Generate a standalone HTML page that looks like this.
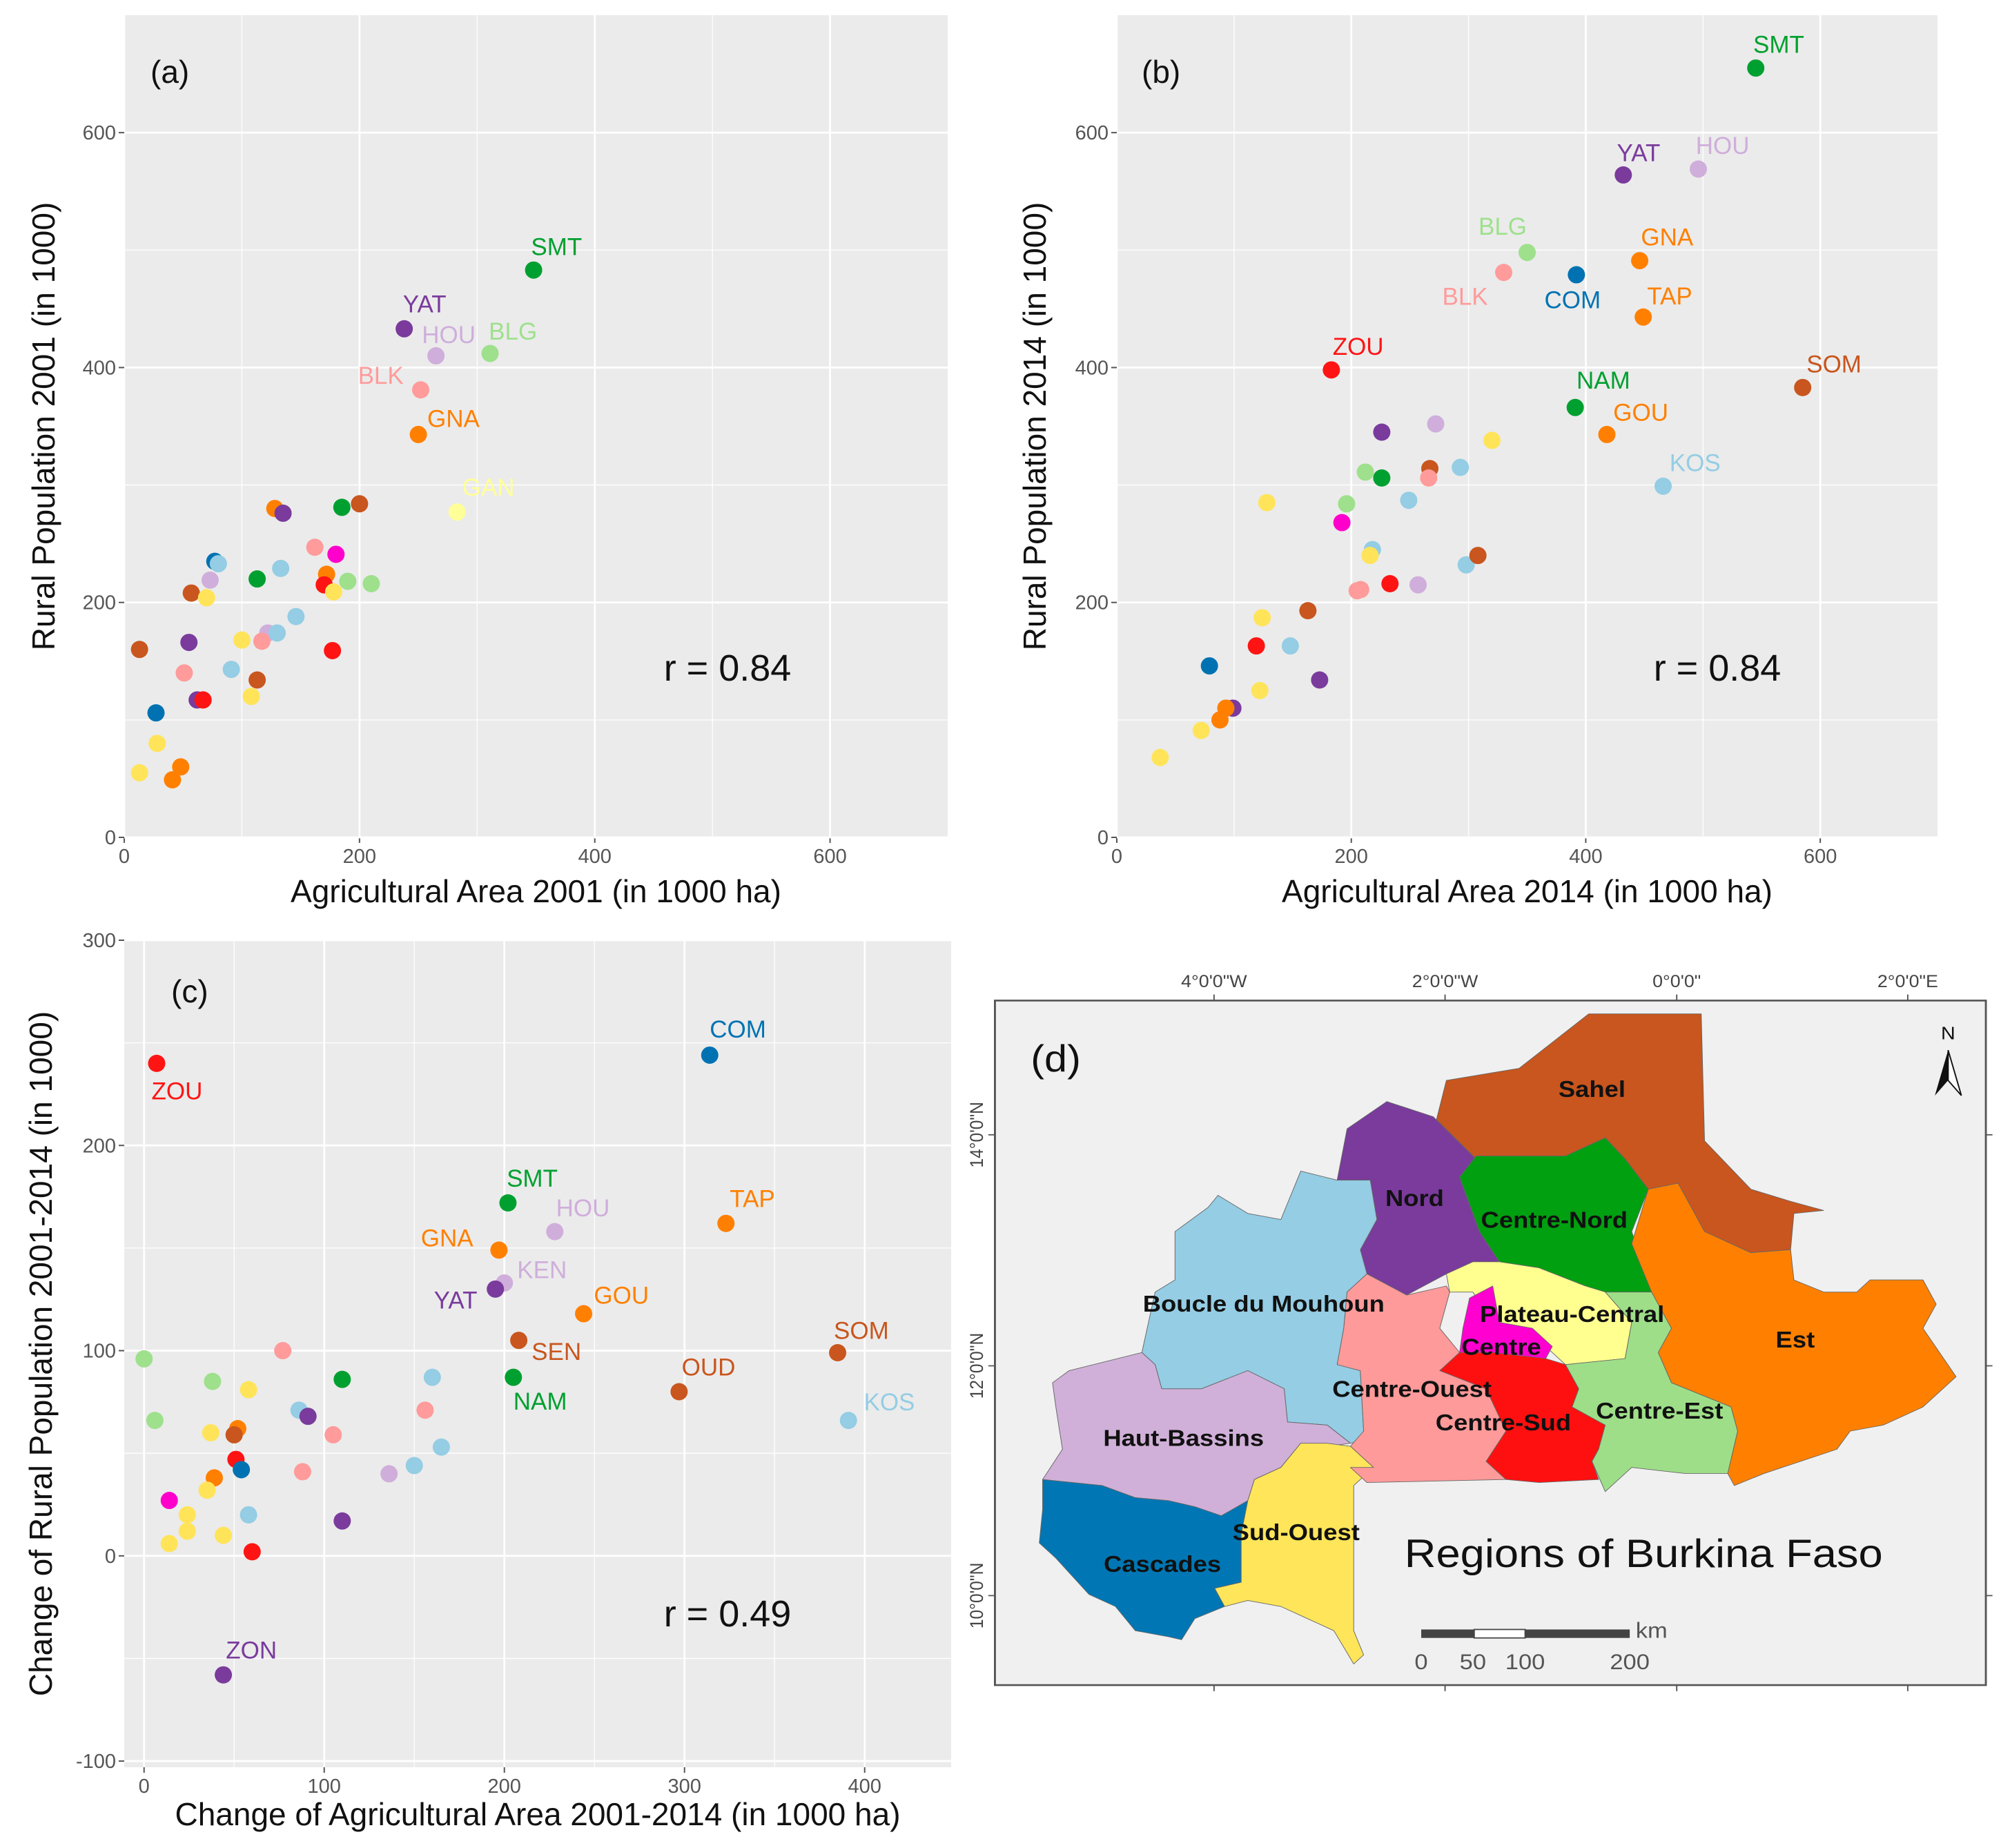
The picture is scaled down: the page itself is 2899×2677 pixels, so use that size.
<!DOCTYPE html>
<html><head><meta charset="utf-8"><style>
html,body{margin:0;padding:0;background:#fff;}
svg{display:block;font-family:"Liberation Sans",Arial,sans-serif;}
</style></head><body>
<svg id="fig" width="2899" height="2677" viewBox="0 0 2899 2677" xmlns="http://www.w3.org/2000/svg">
<g id="pa"></g>
<g id="pb"></g>
<g id="pc"></g>
<g id="pd" transform="translate(1405,1311) scale(0.959,0.876)">
 <rect x="38" y="158" width="1497" height="1132" fill="#f0f0f0" stroke="#555" stroke-width="3"/>
 <g font-size="28" fill="#444" text-anchor="middle">
  <text x="369" y="136">4°0'0"W</text><text x="718" y="136">2°0'0"W</text><text x="1068" y="136">0°0'0"</text><text x="1417" y="136">2°0'0"E</text>
 </g>
 <g stroke="#555" stroke-width="2">
  <line x1="369" y1="148" x2="369" y2="158"/><line x1="718" y1="148" x2="718" y2="158"/><line x1="1068" y1="148" x2="1068" y2="158"/><line x1="1417" y1="148" x2="1417" y2="158"/>
  <line x1="369" y1="1290" x2="369" y2="1300"/><line x1="718" y1="1290" x2="718" y2="1300"/><line x1="1068" y1="1290" x2="1068" y2="1300"/><line x1="1417" y1="1290" x2="1417" y2="1300"/>
  <line x1="28" y1="380" x2="38" y2="380"/><line x1="28" y1="762" x2="38" y2="762"/><line x1="28" y1="1142" x2="38" y2="1142"/>
  <line x1="1535" y1="380" x2="1545" y2="380"/><line x1="1535" y1="762" x2="1545" y2="762"/><line x1="1535" y1="1142" x2="1545" y2="1142"/>
 </g>
 <g font-size="28" fill="#444" text-anchor="middle">
  <text transform="translate(20,380) rotate(-90)">14°0'0"N</text>
  <text transform="translate(20,762) rotate(-90)">12°0'0"N</text>
  <text transform="translate(20,1142) rotate(-90)">10°0'0"N</text>
 </g>
 <g stroke="#666" stroke-width="1" stroke-linejoin="round">
 <polygon fill="#c8561e" points="705,355 720,290 830,270 935,180 1105,180 1110,390 1180,470 1240,490 1290,505 1245,510 1240,570 1180,575 1100,540 1025,470 990,420 960,385 900,415 765,420"/>
 <polygon fill="#7a3b9c" points="570,370 630,325 700,350 765,420 740,450 770,540 800,590 720,610 660,645 600,610 590,570 615,520 605,455 555,455"/>
 <polygon fill="#00a010" points="740,450 765,415 900,415 960,385 990,420 1025,470 1000,540 1030,640 960,640 930,630 860,600 800,590 770,540"/>
 <polygon fill="#ff8000" points="1025,470 1070,460 1110,540 1180,575 1240,570 1245,620 1290,640 1340,640 1360,620 1440,620 1460,660 1440,700 1490,780 1440,830 1380,860 1330,870 1310,900 1200,940 1155,960 1145,940 1160,870 1150,830 1060,790 1040,740 1060,700 1030,640 1000,560"/>
 <polygon fill="#94cde4" points="310,540 360,500 375,480 420,510 470,520 500,440 555,455 605,455 615,520 590,570 600,610 570,640 565,700 555,760 590,770 595,870 620,880 575,890 540,860 480,855 475,800 420,770 350,800 290,800 280,760 260,740 280,640 310,620"/>
 <polygon fill="#d0b0d8" points="125,790 150,770 260,740 280,760 290,800 350,800 420,770 475,800 480,855 540,860 575,890 540,895 500,890 470,930 430,950 420,985 380,1010 340,995 300,985 250,980 200,960 110,950 140,900 130,830"/>
 <polygon fill="#0077b4" points="110,950 200,960 250,980 300,985 340,995 380,1010 420,985 410,1040 410,1120 370,1130 385,1160 340,1180 320,1215 300,1210 250,1200 220,1160 180,1140 130,1080 105,1055 110,1000"/>
 <polygon fill="#ffe55a" points="420,985 430,950 470,930 500,890 540,890 575,895 610,930 580,960 580,1200 595,1240 580,1255 550,1200 510,1180 470,1160 420,1150 385,1160 370,1130 410,1120 410,1040"/>
 <polygon fill="#ff9a9a" points="570,640 600,610 660,645 720,630 725,640 710,700 740,740 710,770 780,800 810,870 780,920 810,950 600,955 575,930 610,930 575,895 595,870 590,770 555,760 565,700"/>
 <polygon fill="#ffff90" points="720,610 760,590 800,590 860,600 930,630 960,640 1000,690 990,750 900,760 870,730 850,700 790,690 760,640 725,640"/>
 <polygon fill="#ff00d0" points="755,650 790,630 800,690 850,700 880,730 870,750 790,740 740,740 745,700"/>
 <polygon fill="#ff1010" points="710,770 740,740 790,740 870,750 900,760 920,800 910,830 960,860 950,900 940,920 950,950 860,955 810,950 780,920 810,870 780,800"/>
 <polygon fill="#9ede88" points="960,640 1030,640 1060,700 1040,740 1060,790 1150,830 1160,870 1145,940 1080,940 1000,930 960,970 940,920 950,900 960,860 910,830 920,800 900,760 990,750 1000,690"/>
 </g>
 <g font-size="38" font-weight="bold" fill="#111" text-anchor="middle" dominant-baseline="central">
  <text x="940" y="305">Sahel</text><text x="672" y="485">Nord</text><text x="883" y="521">Centre-Nord</text>
  <text x="444" y="660">Boucle du Mouhoun</text><text x="910" y="677">Plateau-Central</text><text x="803" y="731">Centre</text>
  <text x="1247" y="719">Est</text><text x="668" y="801">Centre-Ouest</text><text x="806" y="856">Centre-Sud</text>
  <text x="1042" y="837">Centre-Est</text><text x="323" y="882">Haut-Bassins</text><text x="493" y="1038">Sud-Ouest</text>
  <text x="291" y="1090">Cascades</text>
 </g>
 <text x="1018" y="1072" font-size="66" text-anchor="middle" dominant-baseline="central" fill="#111">Regions of Burkina Faso</text>
 <text x="92" y="275" font-size="62" fill="#111">(d)</text>
 <g>
  <text x="1478" y="222" font-size="30" text-anchor="middle" fill="#111">N</text>
  <polygon points="1478,240 1458,315 1478,290" fill="#111"/><polygon points="1478,240 1498,315 1478,290" fill="#fff" stroke="#111" stroke-width="2"/>
 </g>
 <g>
  <rect x="682" y="1198" width="80" height="14" fill="#444"/><rect x="762" y="1198" width="77" height="14" fill="#fff" stroke="#444" stroke-width="2"/><rect x="839" y="1198" width="158" height="14" fill="#444"/>
  <g font-size="36" fill="#555" text-anchor="middle"><text x="682" y="1264">0</text><text x="760" y="1264">50</text><text x="839" y="1264">100</text><text x="997" y="1264">200</text><text x="1030" y="1212">km</text></g>
 </g>
</g>
</svg>
<script>
// ---------- Panel (a) data ----------
const aGroup=["SMT","YAT","HOU","BLG","BLK","GNA","GAN","or","pu","gr","br","pk","mg","lb","bl","lb","lv","gr","or","rd","lg","lg","ye","br","ye","lb","lv","lb","pk","ye","pu","rd","br","pk","lb","br","pu","rd","ye","bl","ye","ye","or","or"];
const aX=[348,238,265,311,252,250,283,128,135,185,200,162,180,133,77,80,73,113,172,170,190,210,178,57,70,146,122,130,117,100,55,177,13,51,91,113,62,67,108,27,28,13,48,41];
const aY=[483,433,410,412,381,343,277,280,276,281,284,247,241,229,235,233,219,220,224,215,218,216,209,208,204,188,174,174,167,168,166,159,160,140,143,134,117,117,120,106,80,55,60,49];
const aLabels=["SMT","YAT","HOU","BLG","BLK","GNA","GAN"];
const aLdx=[-2,-1,-11,-1,-49,7,4];
const aLdy=[-18,-19,-16,-17,-11,-12,-19];
// ---------- Panel (b) data ----------
const bGroup=["SMT","YAT","HOU","BLG","BLK","COM","GNA","TAP","ZOU","NAM","GOU","SOM","KOS","pu","lv","ye","br","pk","lb","lg","gr","ye","lg","lb","mg","lb","ye","rd","lv","pk","pk","lb","br","br","ye","rd","lb","bl","pu","ye","pu","or","or","ye","ye"];
const bX=[545,432,496,350,330,392,446,449,183,391,418,585,466,226,272,320,267,266,293,212,226,128,196,249,192,218,216,233,257,205,208,298,308,163,124,119,148,79,173,122,99,93,88,72,37];
const bY=[655,564,569,498,481,479,491,443,398,366,343,383,299,345,352,338,314,306,315,311,306,285,284,287,268,245,240,216,215,210,211,232,240,193,187,163,163,146,134,125,110,110,100,91,68];
const bLabels=["SMT","YAT","HOU","BLG","BLK","COM","GNA","TAP","ZOU","NAM","GOU","SOM","KOS"];
const bLdx=[-2,-5,-2,-38,-48,-25,1,3,1,1,5,3,5];
const bLdy=[-18,-17,-18,-20,19,20,-18,-16,-18,-21,-17,-18,-18];
// ---------- Panel (c) data ----------
const cGroup=["COM","ZOU","SMT","TAP","HOU","GNA","KEN","YAT","GOU","SEN","NAM","SOM","OUD","KOS","ZON","lg","lg","pk","lg","gr","lb","ye","lb","pk","pu","ye","or","br","pk","lb","lb","lv","pk","rd","bl","or","ye","mg","ye","lb","pu","ye","ye","ye","rd"];
const cX=[314,7,202,323,228,197,200,195,244,208,205,385,297,391,44,0,6,77,38,110,160,58,86,156,91,37,52,50,105,165,150,136,88,51,54,39,35,14,24,58,110,24,44,14,60];
const cY=[244,240,172,162,158,149,133,130,118,105,87,99,80,66,-58,96,66,100,85,86,87,81,71,71,68,60,62,59,59,53,44,40,41,47,42,38,32,27,20,20,17,12,10,6,2];
const cLabels=["COM","ZOU","SMT","TAP","HOU","GNA","KEN","YAT","GOU","SEN","NAM","SOM","OUD","KOS","ZON"];
const cLdx=[0,-4,-1,3,1,-61,10,-48,8,10,0,-3,2,12,2];
const cLdy=[-20,22,-19,-19,-18,-9,-10,9,-14,9,19,-17,-19,-14,-19];

const COL={SMT:"#00a030",NAM:"#00a030",gr:"#00a030",YAT:"#7a3b9c",ZON:"#7a3b9c",pu:"#7a3b9c",HOU:"#cfaedb",KEN:"#cfaedb",lv:"#cfaedb",BLG:"#9ee08c",lg:"#9ee08c",BLK:"#ff9b9b",pk:"#ff9b9b",GNA:"#ff8000",TAP:"#ff8000",GOU:"#ff8000",or:"#ff8000",GAN:"#ffff99",ye:"#ffe45a",COM:"#0072b2",bl:"#0072b2",KOS:"#94cde4",lb:"#94cde4",SOM:"#c8561e",SEN:"#c8561e",OUD:"#c8561e",br:"#c8561e",ZOU:"#ff1414",rd:"#ff1414",mg:"#ff00cc"};
const NS="http://www.w3.org/2000/svg";
const S=1.855;
function mk(parent,tag,attrs){const e=document.createElementNS(NS,tag);for(const k in attrs)e.setAttribute(k,attrs[k]);parent.appendChild(e);return e;}

function panel(g,cfg){
  const {x0,x1,y0,y1,xd,yd}=cfg;
  const sx=v=>x0+(v-xd[0])/(xd[1]-xd[0])*(x1-x0);
  const sy=v=>y1-(v-yd[0])/(yd[1]-yd[0])*(y1-y0);
  const bg=mk(g,"rect",{x:x0,y:y0,width:x1-x0,height:y1-y0,fill:"#ebebeb"});
  
  
  cfg.xMinor.forEach(v=>mk(g,"line",{x1:sx(v),x2:sx(v),y1:y0,y2:y1,stroke:"#fff","stroke-width":1.3}));
  cfg.yMinor.forEach(v=>mk(g,"line",{y1:sy(v),y2:sy(v),x1:x0,x2:x1,stroke:"#fff","stroke-width":1.3}));
  cfg.xTicks.forEach(v=>{
    mk(g,"line",{x1:sx(v),x2:sx(v),y1:y0,y2:y1,stroke:"#fff","stroke-width":2.8});
    mk(g,"line",{x1:sx(v),x2:sx(v),y1:y1,y2:y1+8,stroke:"#555","stroke-width":2});
    const t=mk(g,"text",{x:sx(v),y:y1+37,"font-size":29,fill:"#555","text-anchor":"middle"});t.textContent=v;
    
    
  });
  cfg.yTicks.forEach(v=>{
    mk(g,"line",{y1:sy(v),y2:sy(v),x1:x0,x2:x1,stroke:"#fff","stroke-width":2.8});
    mk(g,"line",{y1:sy(v),y2:sy(v),x1:x0-8,x2:x0,stroke:"#555","stroke-width":2});
    const t=mk(g,"text",{x:x0-12,y:sy(v)+10,"font-size":29,fill:"#555","text-anchor":"end"});t.textContent=v;
    
    
  });
  cfg.xs.forEach((v,i)=>{
    const c=mk(g,"circle",{cx:sx(v),cy:sy(cfg.ys[i]),r:12.5,fill:COL[cfg.groups[i]]});
    
    
  });
  cfg.labels.forEach((n,i)=>{
    const j=cfg.groups.indexOf(n);
    const px=sx(cfg.xs[j]),py=sy(cfg.ys[j]);
    const t=mk(g,"text",{x:px+cfg.ldx[i]*S,y:py+cfg.ldy[i]*S,"font-size":35,fill:COL[n],"dominant-baseline":"central"});
    t.textContent=n;
    
    
  });
  const xt=mk(g,"text",{x:(x0+x1)/2,y:y1+cfg.xto,"font-size":46,fill:"#111","text-anchor":"middle"});xt.textContent=cfg.xTitle;
  
  
  const yt=mk(g,"text",{transform:`translate(${cfg.ytx},${(y0+y1)/2}) rotate(-90)`,"font-size":46,fill:"#111","text-anchor":"middle","dominant-baseline":"central"});yt.textContent=cfg.yTitle;
  
  
  const pl=mk(g,"text",{x:cfg.plx,y:cfg.ply,"font-size":46,fill:"#111"});pl.textContent=cfg.pl;
  
  
  const r=mk(g,"text",{x:cfg.rx,y:cfg.ry,"font-size":54,fill:"#111","text-anchor":"middle","dominant-baseline":"central"});r.textContent=cfg.r;
  
  
}
panel(document.getElementById("pa"),{x0:180,x1:1373,y0:22,y1:1213,xd:[0,700],yd:[0,700],
 xTicks:[0,200,400,600],yTicks:[0,200,400,600],xMinor:[100,300,500],yMinor:[100,300,500],
 xs:aX,ys:aY,groups:aGroup,labels:aLabels,ldx:aLdx,ldy:aLdy,xto:94,
 xTitle:"Agricultural Area 2001 (in 1000 ha)",yTitle:"Rural Population 2001 (in 1000)",ytx:63,
 pl:"(a)",plx:218,ply:120,r:"r = 0.84",rx:1054,ry:968});
panel(document.getElementById("pb"),{x0:1618,x1:2807,y0:22,y1:1213,xd:[0,700],yd:[0,700],
 xTicks:[0,200,400,600],yTicks:[0,200,400,600],xMinor:[100,300,500],yMinor:[100,300,500],
 xs:bX,ys:bY,groups:bGroup,labels:bLabels,ldx:bLdx,ldy:bLdy,xto:94,
 xTitle:"Agricultural Area 2014 (in 1000 ha)",yTitle:"Rural Population 2014 (in 1000)",ytx:1499,
 pl:"(b)",plx:1654,ply:120,r:"r = 0.84",rx:2488,ry:968});
panel(document.getElementById("pc"),{x0:180,x1:1378,y0:1362,y1:2560,xd:[-11,448],yd:[-103,300],
 xTicks:[0,100,200,300,400],yTicks:[-100,0,100,200,300],xMinor:[50,150,250,350],yMinor:[-50,50,150,250],
 xs:cX,ys:cY,groups:cGroup,labels:cLabels,ldx:cLdx,ldy:cLdy,xto:84,
 xTitle:"Change of Agricultural Area 2001-2014 (in 1000 ha)",yTitle:"Change of Rural Population 2001-2014 (in 1000)",ytx:59,
 pl:"(c)",plx:248,ply:1452,r:"r = 0.49",rx:1054,ry:2338});
</script>
</body></html>
